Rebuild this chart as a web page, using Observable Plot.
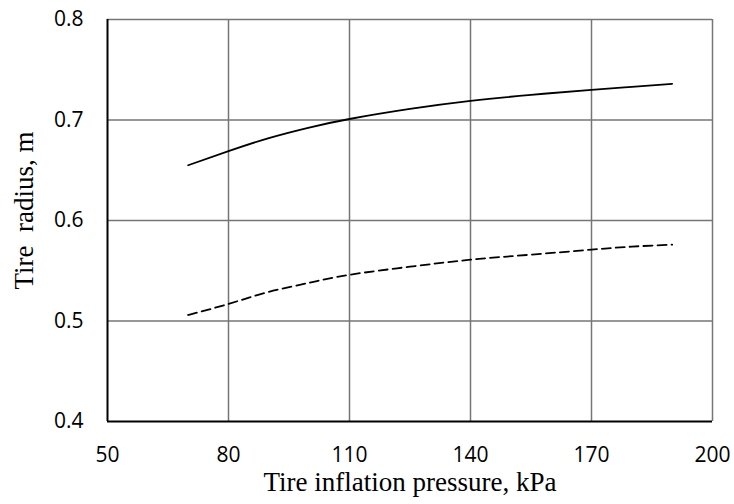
<!DOCTYPE html>
<html>
<head>
<meta charset="utf-8">
<script src="https://cdn.jsdelivr.net/npm/d3@7"></script>
<script src="https://cdn.jsdelivr.net/npm/@observablehq/plot@0.6"></script>
<style>
  html, body { margin: 0; padding: 0; background: #fff; }
</style>
</head>
<body>
<div id="chart"></div>
<script>
const pressure = [70, 80, 90, 100, 110, 125, 140, 155, 170, 180, 190];
const radiusSolid = [0.655, 0.669, 0.682, 0.6925, 0.701, 0.711, 0.719, 0.725, 0.730, 0.733, 0.736];
const radiusDashed = [0.506, 0.517, 0.529, 0.538, 0.546, 0.554, 0.561, 0.566, 0.571, 0.574, 0.576];
const xTicks = [50, 80, 110, 140, 170, 200];
const yTicks = [0.4, 0.5, 0.6, 0.7, 0.8];

const solid = pressure.map((p, i) => ({x: p, y: radiusSolid[i]}));
const dashed = pressure.map((p, i) => ({x: p, y: radiusDashed[i]}));

const plot = Plot.plot({
  width: 734,
  height: 504,
  marginLeft: 107,
  marginRight: 22,
  marginTop: 19,
  marginBottom: 83,
  style: {fontFamily: "Open Sans", fontSize: "21px", color: "#000", background: "#fff"},
  x: {domain: [50, 200]},
  y: {domain: [0.4, 0.8]},
  marks: [
    Plot.gridX(xTicks.slice(1), {stroke: "#767676", strokeOpacity: 1, strokeWidth: 1.5}),
    Plot.gridY(yTicks.slice(1), {stroke: "#767676", strokeOpacity: 1, strokeWidth: 1.5}),
    Plot.ruleX([50], {stroke: "#000", strokeWidth: 2}),
    Plot.ruleY([0.4], {stroke: "#000", strokeWidth: 2}),
    Plot.axisX(xTicks, {tickSize: 0, tickPadding: 26, fontSize: 21, fill: "#000", label: null}),
    Plot.axisY(yTicks, {tickSize: 0, tickPadding: 24, fontSize: 21, fill: "#000", label: null, tickFormat: d3.format(".1f")}),
    Plot.line(solid, {x: "x", y: "y", curve: "natural", stroke: "#000", strokeWidth: 1.8}),
    Plot.line(dashed, {x: "x", y: "y", curve: "natural", stroke: "#000", strokeWidth: 1.8, strokeDasharray: "9,5"}),
    Plot.text(["Tire inflation pressure, kPa"], {frameAnchor: "bottom", dy: 69, fontFamily: "Liberation Serif", fontSize: 27, fill: "#000"}),
    Plot.text(["Tire  radius, m"], {frameAnchor: "left", textAnchor: "middle", dx: -83, dy: -10, rotate: -90, fontFamily: "Liberation Serif", fontSize: 27, fill: "#000"})
  ]
});
document.getElementById("chart").appendChild(plot);
</script>
</body>
</html>
